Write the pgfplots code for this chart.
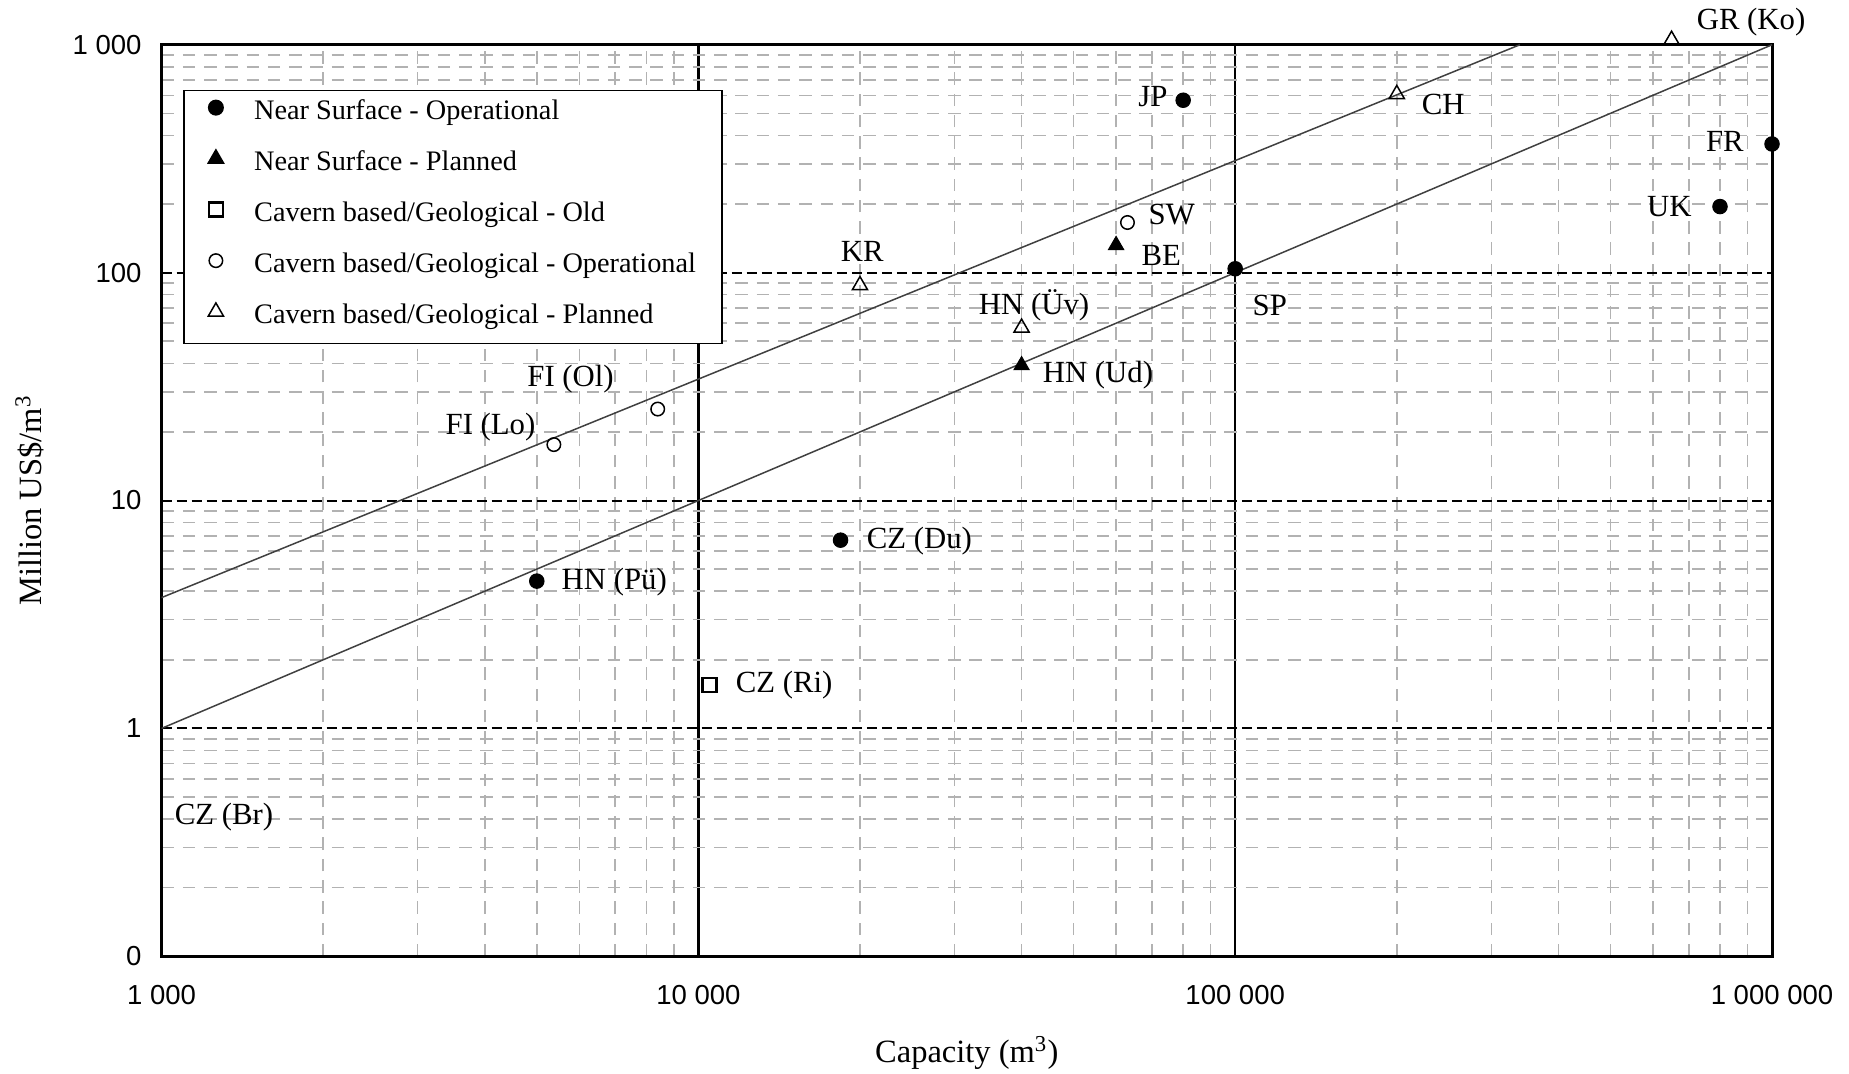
\documentclass[border=0pt]{standalone}
\usepackage{fontspec}
\setmainfont{Liberation Serif}
\newfontfamily\tickfont{Liberation Sans}
\usepackage{pgfplots}
\pgfplotsset{compat=1.18}

\begin{document}
\begin{tikzpicture}
\begin{axis}[
    scale only axis,
    width=644pt, height=364.5pt,
    xmode=log, ymode=log,
    xmin=1000, xmax=1000000,
    ymin=0.1, ymax=1000,
    clip=false,
    xtick={1000,10000,100000,1000000},
    xticklabels={1 000,10 000,100 000,1 000 000},
    ytick={0.1,1,10,100,1000},
    yticklabels={0,1,10,100,1 000},
    minor xtick={2000,3000,4000,5000,6000,7000,8000,9000,
                 20000,30000,40000,50000,60000,70000,80000,90000,
                 200000,300000,400000,500000,600000,700000,800000,900000},
    minor ytick={0.2,0.3,0.4,0.5,0.6,0.7,0.8,0.9,2,3,4,5,6,7,8,9,
                 20,30,40,50,60,70,80,90,200,300,400,500,600,700,800,900},
    major tick length=0pt, minor tick length=0pt,
    xmajorgrids, ymajorgrids, xminorgrids, yminorgrids,
    major x grid style={black, line width=0.9pt},
    major y grid style={black, line width=0.8pt, dash pattern=on 4pt off 2pt},
    minor x grid style={black!30, line width=0.6pt, dash pattern=on 5pt off 3.5pt},
    minor y grid style={black!30, line width=0.6pt, dash pattern=on 5pt off 3.5pt},
    axis line style={line width=1.2pt},
    tick label style={font=\tickfont\fontsize{11}{13}\selectfont},
    xticklabel style={yshift=-8pt},
    yticklabel style={xshift=-4.5pt},
    label style={font=\fontsize{13}{15}\selectfont},
    xlabel={Capacity (m\textsuperscript{3})},
    ylabel={Million US\$/m\textsuperscript{3}},
    xlabel style={at={(axis description cs:0.5,-0.1065)}, anchor=center},
    ylabel style={at={(axis description cs:-0.082,0.5)}, anchor=center},
    legend style={at={(rel axis cs:0.0134,0.9504)}, anchor=north west,
        draw=black, line width=0.6pt, fill=white,
        font=\fontsize{11.3}{13}\selectfont,
        inner xsep=9pt, inner ysep=3pt, row sep=6.9pt,
        nodes={text height=7pt, text depth=3.5pt, inner sep=1.5pt}},
    legend cell align=left,
    legend image code/.code={
        \draw[mark repeat=2,mark phase=2,line width=0.6pt]
            plot coordinates {(0pt,3pt) (3.5pt,3pt) (7pt,3pt)};
        \path (0pt,0pt) (17pt,0pt);},
]
% fitted lines
\addplot[forget plot, black!75, line width=0.6pt] coordinates {(1000,1) (1000000,1000)};
\addplot[forget plot, black!75, line width=0.6pt] coordinates {(1000,3.75) (339000,1000)};

\addplot[only marks, mark=*, mark size=2.9pt, black] coordinates {
    (80000,571) (1000000,367) (800000,195) (100000,104) (18400,6.7) (5000,4.43)};
\addlegendentry{Near Surface - Operational}
\addplot[only marks, mark=triangle*, mark size=3.5pt, black] coordinates {
    (60000,132) (40000,39.2)};
\addlegendentry{Near Surface - Planned}
\addplot[only marks, mark=square, mark size=2.8pt, black, mark options={line width=1.1pt}] coordinates {
    (10500,1.55)};
\addlegendentry{Cavern based/Geological - Old}
\addplot[only marks, mark=o, mark size=2.7pt, black, mark options={line width=0.6pt}] coordinates {
    (63000,166) (8400,25.2) (5380,17.6)};
\addlegendentry{Cavern based/Geological - Operational}
\addplot[only marks, mark=triangle, mark size=3.5pt, black, mark options={line width=0.6pt}] coordinates {
    (650000,1050) (200000,607) (20000,88) (40000,57.3)};
\addlegendentry{Cavern based/Geological - Planned}

% point labels
\begin{scope}[every node/.style={font=\fontsize{12.3}{14}\selectfont, inner sep=0pt}]
\node at (axis cs:70300,592) {JP};
\node at (axis cs:817000,377) {FR};
\node at (axis cs:644000,195) {UK};
\node at (axis cs:116000,71.9) {SP};
\node at (axis cs:25800,6.64) {CZ (Du)};
\node at (axis cs:6970,4.38) {HN (Pü)};
\node at (axis cs:72800,119) {BE};
\node at (axis cs:55500,35.6) {HN (Ud)};
\node at (axis cs:14450,1.55) {CZ (Ri)};
\node at (axis cs:76200,180) {SW};
\node at (axis cs:5780,34.0) {FI (Ol)};
\node at (axis cs:4100,21.1) {FI (Lo)};
\node at (axis cs:914000,1254) {GR (Ko)};
\node at (axis cs:244000,545) {CH};
\node at (axis cs:20200,124) {KR};
\node at (axis cs:42200,71.9) {HN (Üv)};
\node at (axis cs:1307,0.408) {CZ (Br)};
\end{scope}

\coordinate (bbsw) at (rel axis cs:0,0);
\coordinate (bbne) at (rel axis cs:1,1);
\end{axis}
\pgfresetboundingbox
\useasboundingbox ([shift={(-64.6pt,-46.8pt)}]bbsw) rectangle ([shift={(30.8pt,17.9pt)}]bbne);
\end{tikzpicture}
\end{document}
